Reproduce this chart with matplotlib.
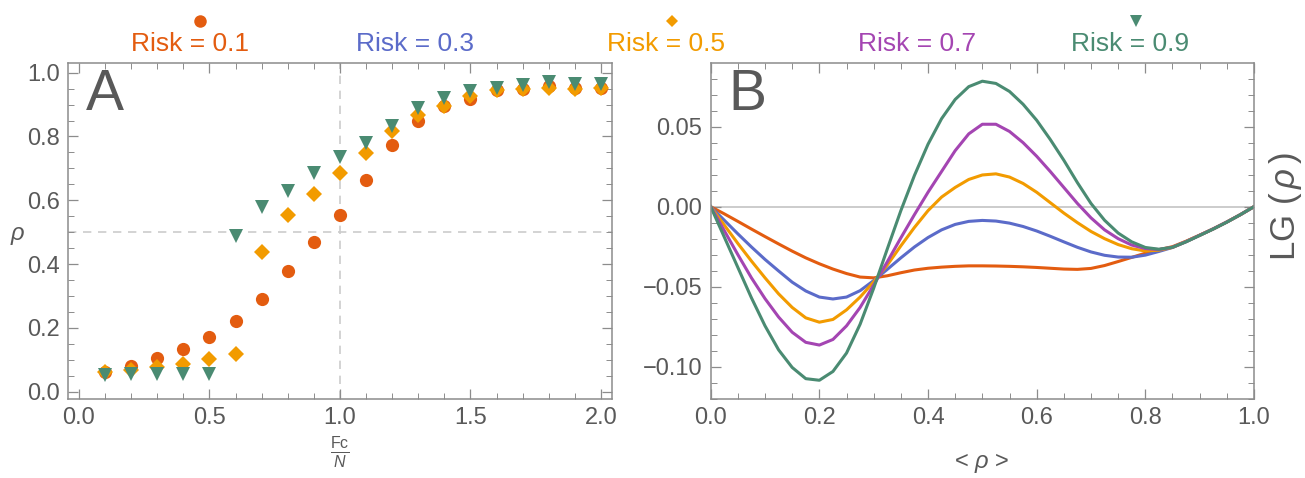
import matplotlib
matplotlib.use("Agg")
import matplotlib.pyplot as plt
from matplotlib.lines import Line2D
from matplotlib.ticker import MultipleLocator

plt.rcParams['font.family'] = ['Liberation Sans', 'DejaVu Sans']
plt.rcParams['mathtext.fontset'] = 'custom'
plt.rcParams['mathtext.rm'] = 'Liberation Sans'
plt.rcParams['mathtext.it'] = 'Liberation Sans:italic'

# ---- panel A data ----
fc_n = [0.1, 0.2, 0.3, 0.4, 0.5, 0.6, 0.7, 0.8, 0.9, 1.0,
        1.1, 1.2, 1.3, 1.4, 1.5, 1.6, 1.7, 1.8, 1.9, 2.0]
rho_01 = [0.063, 0.081, 0.106, 0.134, 0.171, 0.222, 0.290, 0.379, 0.470, 0.553,
          0.663, 0.772, 0.850, 0.897, 0.918, 0.945, 0.950, 0.957, 0.952, 0.952]
err_01 = [0, 0, 0, 0, 0, 0, 0, 0, 0, 0,
          0.010, 0.006, 0.006, 0.010, 0.018, 0.012, 0.010, 0.010, 0.006, 0.006]
rho_05 = [0.062, 0.067, 0.078, 0.087, 0.103, 0.119, 0.438, 0.553, 0.619, 0.684,
          0.747, 0.816, 0.866, 0.897, 0.928, 0.947, 0.950, 0.953, 0.950, 0.953]
err_05 = [0, 0, 0, 0, 0, 0, 0.008, 0, 0, 0,
          0.006, 0.006, 0.012, 0.012, 0.015, 0.012, 0.010, 0.018, 0.010, 0.008]
rho_09 = [0.053, 0.056, 0.056, 0.056, 0.056, 0.487, 0.578, 0.630, 0.684, 0.735,
          0.780, 0.834, 0.890, 0.922, 0.944, 0.953, 0.960, 0.970, 0.965, 0.965]
err_09 = [0, 0, 0, 0, 0, 0, 0, 0, 0, 0,
          0, 0, 0.006, 0.010, 0.020, 0.022, 0.012, 0.010, 0.012, 0.006]

# ---- panel B data ----
rho_avg = [0.0, 0.025, 0.05, 0.075, 0.1, 0.125, 0.15, 0.175, 0.2, 0.225,
           0.25, 0.275, 0.3, 0.325, 0.35, 0.375, 0.4, 0.425, 0.45, 0.475,
           0.5, 0.525, 0.55, 0.575, 0.6, 0.625, 0.65, 0.675, 0.7, 0.725,
           0.75, 0.775, 0.8, 0.825, 0.85, 0.875, 0.9, 0.925, 0.95, 0.975, 1.0]
lg_01 = [0.0, -0.0045, -0.0092, -0.0140, -0.0187, -0.0233, -0.0278, -0.0320, -0.0357, -0.0390,
         -0.0418, -0.0440, -0.0445, -0.0432, -0.0413, -0.0396, -0.0385, -0.0378, -0.0373, -0.0370,
         -0.0370, -0.0371, -0.0373, -0.0376, -0.0380, -0.0385, -0.0390, -0.0392, -0.0386, -0.0368,
         -0.0343, -0.0317, -0.0291, -0.0269, -0.0250, -0.0216, -0.0178, -0.0139, -0.0096, -0.0050, 0.0]
lg_03 = [0.0, -0.0085, -0.0170, -0.0252, -0.0330, -0.0402, -0.0472, -0.0527, -0.0565, -0.0577,
         -0.0565, -0.0525, -0.0462, -0.0392, -0.0320, -0.0252, -0.0193, -0.0145, -0.0111, -0.0092,
         -0.0086, -0.0090, -0.0103, -0.0124, -0.0152, -0.0185, -0.0220, -0.0254, -0.0283, -0.0304,
         -0.0315, -0.0316, -0.0303, -0.0280, -0.0255, -0.0218, -0.0179, -0.0139, -0.0096, -0.0050, 0.0]
lg_05 = [0.0, -0.0115, -0.0230, -0.0340, -0.0445, -0.0545, -0.0630, -0.0695, -0.0722, -0.0705,
         -0.0645, -0.0565, -0.0470, -0.0365, -0.0245, -0.0130, -0.0025, 0.0060, 0.0120, 0.0170,
         0.0198, 0.0205, 0.0185, 0.0145, 0.0090, 0.0025, -0.0040, -0.0100, -0.0155, -0.0200,
         -0.0237, -0.0263, -0.0277, -0.0272, -0.0255, -0.0218, -0.0179, -0.0139, -0.0096, -0.0050, 0.0]
lg_07 = [0.0, -0.0150, -0.0300, -0.0445, -0.0575, -0.0690, -0.0785, -0.0848, -0.0865, -0.0830,
         -0.0745, -0.0630, -0.0490, -0.0345, -0.0195, -0.0050, 0.0090, 0.0220, 0.0350, 0.0455,
         0.0515, 0.0515, 0.0470, 0.0400, 0.0315, 0.0220, 0.0120, 0.0020, -0.0070, -0.0145,
         -0.0200, -0.0240, -0.0262, -0.0268, -0.0254, -0.0219, -0.0179, -0.0139, -0.0096, -0.0050, 0.0]
lg_09 = [0.0, -0.0190, -0.0380, -0.0570, -0.0745, -0.0895, -0.1005, -0.1075, -0.1085, -0.1030,
         -0.0915, -0.0735, -0.0510, -0.0265, -0.0025, 0.0195, 0.0390, 0.0550, 0.0670, 0.0750,
         0.0784, 0.0770, 0.0720, 0.0640, 0.0540, 0.0420, 0.0290, 0.0150, 0.0020, -0.0085,
         -0.0165, -0.0220, -0.0255, -0.0266, -0.0254, -0.0220, -0.0180, -0.0140, -0.0097, -0.0050, 0.0]

risk_labels = ['Risk = 0.1', 'Risk = 0.3', 'Risk = 0.5', 'Risk = 0.7', 'Risk = 0.9']
colors = ['#E35C10', '#5B6BC9', '#F29B00', '#A445B2', '#4A8B72']

frame_col = '#8c8c8c'
text_col = '#595959'

fig = plt.figure(figsize=(13.05, 4.78), dpi=100)
axA = fig.add_axes([0.0523, 0.1653, 0.4164, 0.7023])
axB = fig.add_axes([0.5446, 0.1653, 0.4163, 0.7023])

for ax in (axA, axB):
    for s in ax.spines.values():
        s.set_color(frame_col)
        s.set_linewidth(1.1)
    ax.tick_params(which='both', direction='in', top=True, right=True,
                   color=frame_col, labelcolor=text_col, labelsize=17)
    ax.tick_params(which='major', length=7, width=0.9, pad=6)
    ax.tick_params(which='minor', length=4, width=0.7)

# panel A
axA.axhline(0.5, color='#cccccc', ls=(0, (5, 4)), lw=1.2, zorder=0)
axA.axvline(1.0, color='#cccccc', ls=(0, (5, 4)), lw=1.2, zorder=0)
axA.errorbar(fc_n, rho_01, yerr=err_01, fmt='o', ms=9.5, color=colors[0],
             ecolor=colors[0], elinewidth=1.5, capsize=2.5, mew=0)
axA.errorbar(fc_n, rho_05, yerr=err_05, fmt='D', ms=8.2, color=colors[2],
             ecolor=colors[2], elinewidth=1.5, capsize=2.5, mew=0)
axA.errorbar(fc_n, rho_09, yerr=err_09, fmt='v', ms=10, color=colors[4],
             ecolor=colors[4], elinewidth=1.5, capsize=2.5, mew=0)
axA.set_xlim(-0.041, 2.041)
axA.set_ylim(-0.023, 1.0295)
axA.xaxis.set_major_locator(MultipleLocator(0.5))
axA.xaxis.set_minor_locator(MultipleLocator(0.1))
axA.yaxis.set_major_locator(MultipleLocator(0.2))
axA.yaxis.set_minor_locator(MultipleLocator(0.05))
axA.xaxis.set_major_formatter(lambda v, p: f'{v:.1f}')
axA.yaxis.set_major_formatter(lambda v, p: f'{v:.1f}')
axA.text(0.032, 0.985, 'A', transform=axA.transAxes, fontsize=41,
         color=text_col, ha='left', va='top')

# panel B
axB.axhline(0.0, color='#c8c8c8', lw=1.3, zorder=0)
for y, c in zip([lg_01, lg_03, lg_05, lg_07, lg_09], colors):
    axB.plot(rho_avg, y, color=c, lw=2.2, solid_joinstyle='round')
axB.set_xlim(0, 1)
axB.set_ylim(-0.1202, 0.0896)
axB.xaxis.set_major_locator(MultipleLocator(0.2))
axB.xaxis.set_minor_locator(MultipleLocator(0.05))
axB.yaxis.set_major_locator(MultipleLocator(0.05))
axB.yaxis.set_minor_locator(MultipleLocator(0.01))
axB.xaxis.set_major_formatter(lambda v, p: f'{v:.1f}')
axB.yaxis.set_major_formatter(lambda v, p: f'{v:.2f}'.replace('-', '\u2212'))
axB.text(0.032, 0.985, 'B', transform=axB.transAxes, fontsize=41,
         color=text_col, ha='left', va='top')

# axis labels
fig.text(18 / 1305, 1 - 236 / 478, r'$\rho$', fontsize=17, color=text_col,
         ha='center', va='center')
fig.text(340 / 1305, 1 - 452 / 478, r'$\frac{\mathrm{Fc}}{N}$', fontsize=16.5,
         color=text_col, ha='center', va='center')
fig.text(982 / 1305, 1 - 463 / 478, r'< $\rho$ >', fontsize=17, color=text_col,
         ha='center', va='center')
fig.text(1285 / 1305, 1 - 207 / 478, r'LG $(\,\rho\,)$', fontsize=25, color=text_col,
         ha='center', va='center', rotation=90)

# legend row on top
label_x = [190, 415, 666, 917, 1130]
for lx, lab, c in zip(label_x, risk_labels, colors):
    fig.text(lx / 1305, 1 - 44 / 478, lab, fontsize=19, color=c,
             ha='center', va='center')
marker_pos = [(200, 'o', colors[0], 9), (672, 'D', colors[2], 6), (1136, 'v', colors[4], 8)]
for mx, m, c, s in marker_pos:
    fig.add_artist(Line2D([mx / 1305], [1 - 21 / 478], marker=m, color=c, ms=s,
                          mew=0, transform=fig.transFigure))

fig.savefig('out.png', dpi=100)
